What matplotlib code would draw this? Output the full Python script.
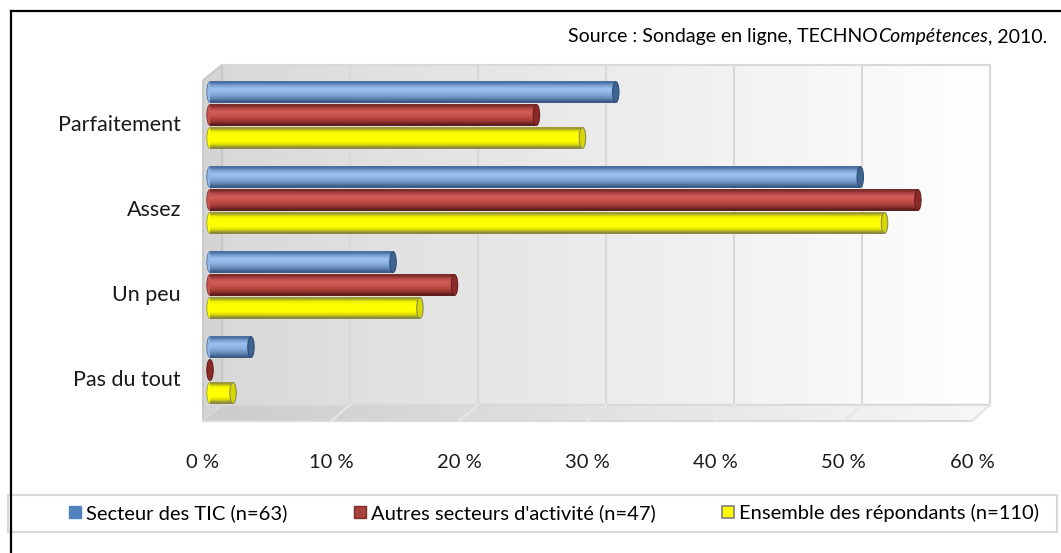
import numpy as np
import matplotlib
matplotlib.use("Agg")
import matplotlib.pyplot as plt
from matplotlib.patches import Polygon, Ellipse, Rectangle, Patch
from matplotlib.colors import to_rgb
from matplotlib.lines import Line2D

plt.rcParams['font.family'] = ['Lato', 'DejaVu Sans']

# data (share of respondents, %)
categories = ["Parfaitement", "Assez", "Un peu", "Pas du tout"]
series_names = ["Secteur des TIC (n=63)",
                "Autres secteurs d'activité (n=47)",
                "Ensemble des répondants (n=110)"]
tic = [31.7, 50.8, 14.3, 3.2]
autres = [25.5, 55.3, 19.1, 0.0]
ensemble = [29.1, 52.7, 16.4, 1.8]
ticks = [0, 10, 20, 30, 40, 50, 60]
tick_labels = ["0 %", "10 %", "20 %", "30 %", "40 %", "50 %", "60 %"]

# cylinder shading: top edge -> highlight -> bottom edge
shades = [
    ["#4a71a0", "#7ea5d6", "#9dc2ee", "#93b8e6", "#7fa3d2", "#6287b6", "#3c5c86"],
    ["#7e2c2a", "#b84a47", "#d15e5a", "#c9554f", "#b8473f", "#9a3633", "#5e1f1d"],
    ["#9c9c30", "#f2f200", "#ffff00", "#ffff00", "#ffff00", "#e0e000", "#8a8a40"],
]
caps = ["#3d6592", "#8b2a28", "#d8d800"]
cap_edges = ["#2f4f78", "#6a1f1e", "#8a8a60"]

W, H = 1061, 553
PX = 12.8          # pixels per percent
X0, X1 = -1.5, 62  # x range of the axes
fig = plt.figure(figsize=(W / 100, H / 100), dpi=100)
ax = fig.add_axes([(210 + X0 * PX) / W, (H - 440) / H, (X1 - X0) * PX / W, 390 / H])
ax.axis('off')

# 3d frame geometry (data units)
dxb, dxf = 0.94, -0.55
y_top, y_backfloor, y_front = -0.59, 3.41, 3.60
front = lambda v: dxf + v * 1.0013


def hgrad(a, b):
    g = np.linspace(a, b, 256)
    return np.dstack([g, g, g]).repeat(2, axis=0)


# back wall with a gradient
ax.imshow(hgrad(0.85, 1.0), extent=(dxb, 60 + dxb, y_backfloor, y_top), aspect='auto',
          zorder=0, interpolation='bilinear')
ax.add_patch(Rectangle((dxb, y_top), 60, y_backfloor - y_top, fill=False,
                       ec="#d9d9d9", lw=1.5, zorder=1))

# left side wall
ax.add_patch(Polygon([(dxf, -0.41), (dxb, y_top), (dxb, y_backfloor), (dxf, y_front)],
                     closed=True, fc="#d4d4d4", ec="#c4c4c4", lw=1.2, zorder=1))

# floor
floor = Polygon([(dxb, y_backfloor), (60 + dxb, y_backfloor), (front(60), y_front),
                 (dxf, y_front)], closed=True, fc="none", ec="#d9d9d9", lw=1.5, zorder=2)
fim = ax.imshow(hgrad(0.80, 0.97), extent=(dxf, 60 + dxb, y_front, y_backfloor),
                aspect='auto', zorder=1, interpolation='bilinear')
ax.add_patch(floor)
fim.set_clip_path(floor)

# gridlines
for v in ticks[1:]:
    ax.plot([v + dxb, v + dxb], [y_top, y_backfloor], color="#d9d9d9", lw=1.5, zorder=1.5)
    ax.plot([v + dxb, front(v)], [y_backfloor, y_front], color="#e6e6e6", lw=1.5, zorder=2)

# bars
offsets = [-0.27, 0.0, 0.27]
bh = 0.25
cap_w = 0.5
for s, vals in enumerate([tic, autres, ensemble]):
    cols = np.array([to_rgb(c) for c in shades[s]])[:, None, :]
    for i, v in enumerate(vals):
        yc = i + offsets[s]
        if v > 0:
            ax.add_patch(Ellipse((0, yc), cap_w, bh * 0.98, fc=shades[s][3],
                                 ec=shades[s][0], lw=0.6, zorder=3))
            ax.imshow(cols, extent=(0, v, yc + bh / 2, yc - bh / 2), aspect='auto',
                      zorder=3, interpolation='bilinear')
        ax.add_patch(Ellipse((v, yc), cap_w, bh * 0.98, fc=caps[s], ec=cap_edges[s],
                             lw=0.8, zorder=4))

ax.set_xlim(X0, X1)
ax.set_ylim((440 - 115) / 85, (50 - 115) / 85)

# category labels
for i, c in enumerate(categories):
    ax.text(-29 / PX, i + 0.12, c, ha='right', va='center', fontsize=15.5,
            color="#1a1a1a")

# x tick labels on the front edge
for v, lab in zip(ticks, tick_labels):
    ax.text(front(v), (462 - 115) / 85, lab, ha='center', va='center', fontsize=14.5,
            color="#1a1a1a", clip_on=False)

# source note, partly italic
t3 = fig.text(1047 / W, 1 - 45 / H, ", 2010.", ha='right', va='bottom', fontsize=14)
t2 = ax.annotate("Compétences", xy=(0, 0), xycoords=t3, ha='right', va='bottom',
                 fontsize=14, style='italic', annotation_clip=False)
ax.annotate("Source : Sondage en ligne, TECHNO", xy=(0, 0), xycoords=t2, ha='right',
            va='bottom', fontsize=14, annotation_clip=False)

# legend
fig.add_artist(Rectangle((8 / W, 1 - 532 / H), 1049 / W, 37 / H, transform=fig.transFigure,
                         fill=False, ec="#d9d9d9", lw=1.5))
handles = [Patch(fc="#4f81bd", ec="#4f81bd"),
           Patch(fc="#a8403d", ec="#7e2c2a"),
           Patch(fc="#ffff00", ec="#808080", lw=1.2)]
fig.legend(handles, series_names, ncol=3, loc='center',
           bbox_to_anchor=(554 / W, 1 - 513 / H), frameon=False, fontsize=14.5,
           handlelength=0.6, handleheight=0.6, handletextpad=0.25, columnspacing=3.3)

# outer black frame (left and top)
fig.add_artist(Line2D([11 / W, 11 / W], [0, 1 - 11 / H], transform=fig.transFigure,
                      color="black", lw=1.6))
fig.add_artist(Line2D([11 / W, 1], [1 - 11 / H, 1 - 11 / H], transform=fig.transFigure,
                      color="black", lw=1.6))

fig.savefig("out.png", dpi=100)
